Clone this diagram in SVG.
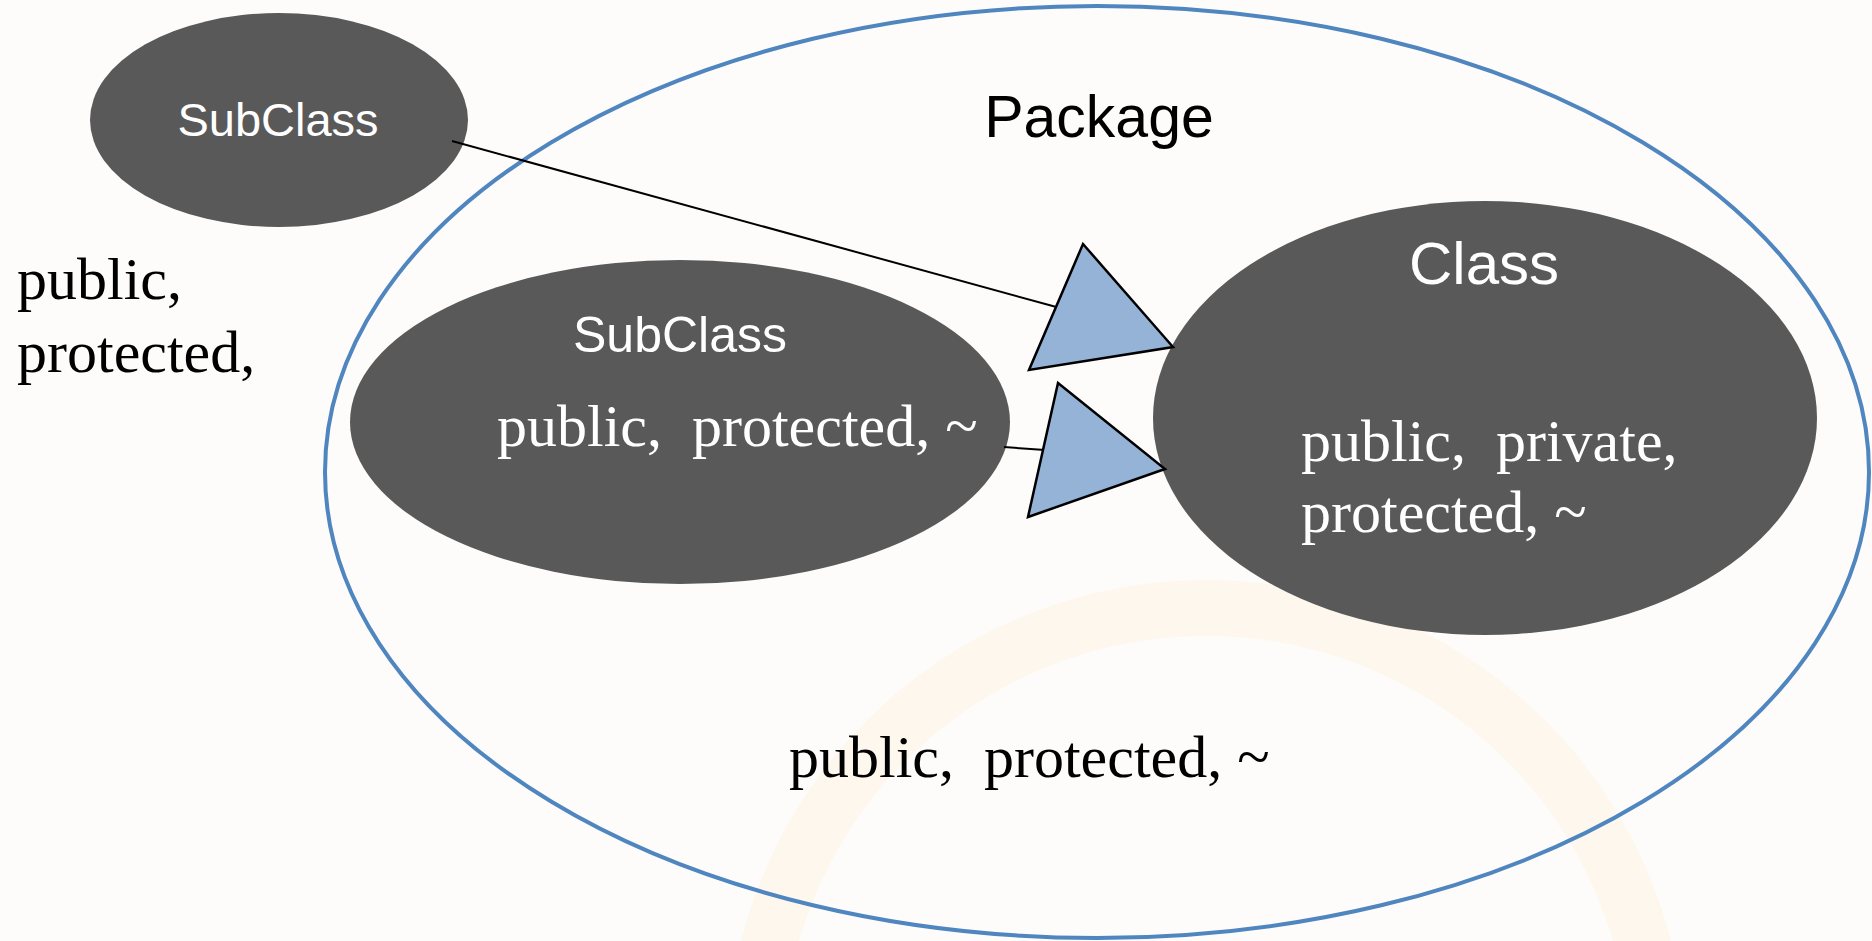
<svg xmlns="http://www.w3.org/2000/svg" width="1872" height="941" viewBox="0 0 1872 941">
  <style>
    .node { fill: #595959; }
    .sans { font-family: "Liberation Sans", Arial, sans-serif; }
    .serif { font-family: "Liberation Serif", "Times New Roman", serif; font-size: 60px; }
    .white { fill: #ffffff; }
    .black { fill: #000000; }
    .conn { stroke: #000000; stroke-width: 2; fill: none; }
    .head { fill: #95b3d7; stroke: #000000; stroke-width: 2.5; stroke-linejoin: miter; }
  </style>
  <rect x="0" y="0" width="1872" height="941" fill="#fefcfa"/>
  <circle cx="1206" cy="1060" r="452" fill="none" stroke="#fdf7ee" stroke-width="56"/>

  <g id="package">
    <ellipse cx="1097" cy="472" rx="772" ry="466" fill="none" stroke="#4f86c0" stroke-width="4"/>
    <text class="sans black" x="1099" y="137" font-size="59" text-anchor="middle">Package</text>
    <text class="serif black" x="789" y="777" xml:space="preserve">public,  protected, ~</text>
  </g>

  <g id="outer-subclass">
    <ellipse class="node" cx="279" cy="120" rx="189" ry="107"/>
    <text class="sans white" x="278" y="136" font-size="47" text-anchor="middle">SubClass</text>
    <text class="serif black" x="17" y="299">public,</text>
    <text class="serif black" x="17" y="372">protected,</text>
  </g>

  <g id="inner-subclass">
    <ellipse class="node" cx="680" cy="422" rx="330" ry="162"/>
    <text class="sans white" x="680" y="352" font-size="50" text-anchor="middle">SubClass</text>
    <text class="serif white" x="497" y="446" xml:space="preserve">public,  protected, ~</text>
  </g>

  <g id="class">
    <ellipse class="node" cx="1485" cy="418" rx="332" ry="217"/>
    <text class="sans white" x="1484" y="284" font-size="60" text-anchor="middle">Class</text>
    <text class="serif white" x="1301" y="461" xml:space="preserve">public,  private,</text>
    <text class="serif white" x="1301" y="532" xml:space="preserve">protected, ~</text>
  </g>

  <g id="connectors">
    <line class="conn" x1="452" y1="141" x2="1060" y2="308"/>
    <polygon class="head" points="1083,244 1173,347 1029,370"/>
    <line class="conn" x1="1004" y1="447" x2="1045" y2="450"/>
    <polygon class="head" points="1058,383 1165,469 1028,517"/>
  </g>
</svg>
